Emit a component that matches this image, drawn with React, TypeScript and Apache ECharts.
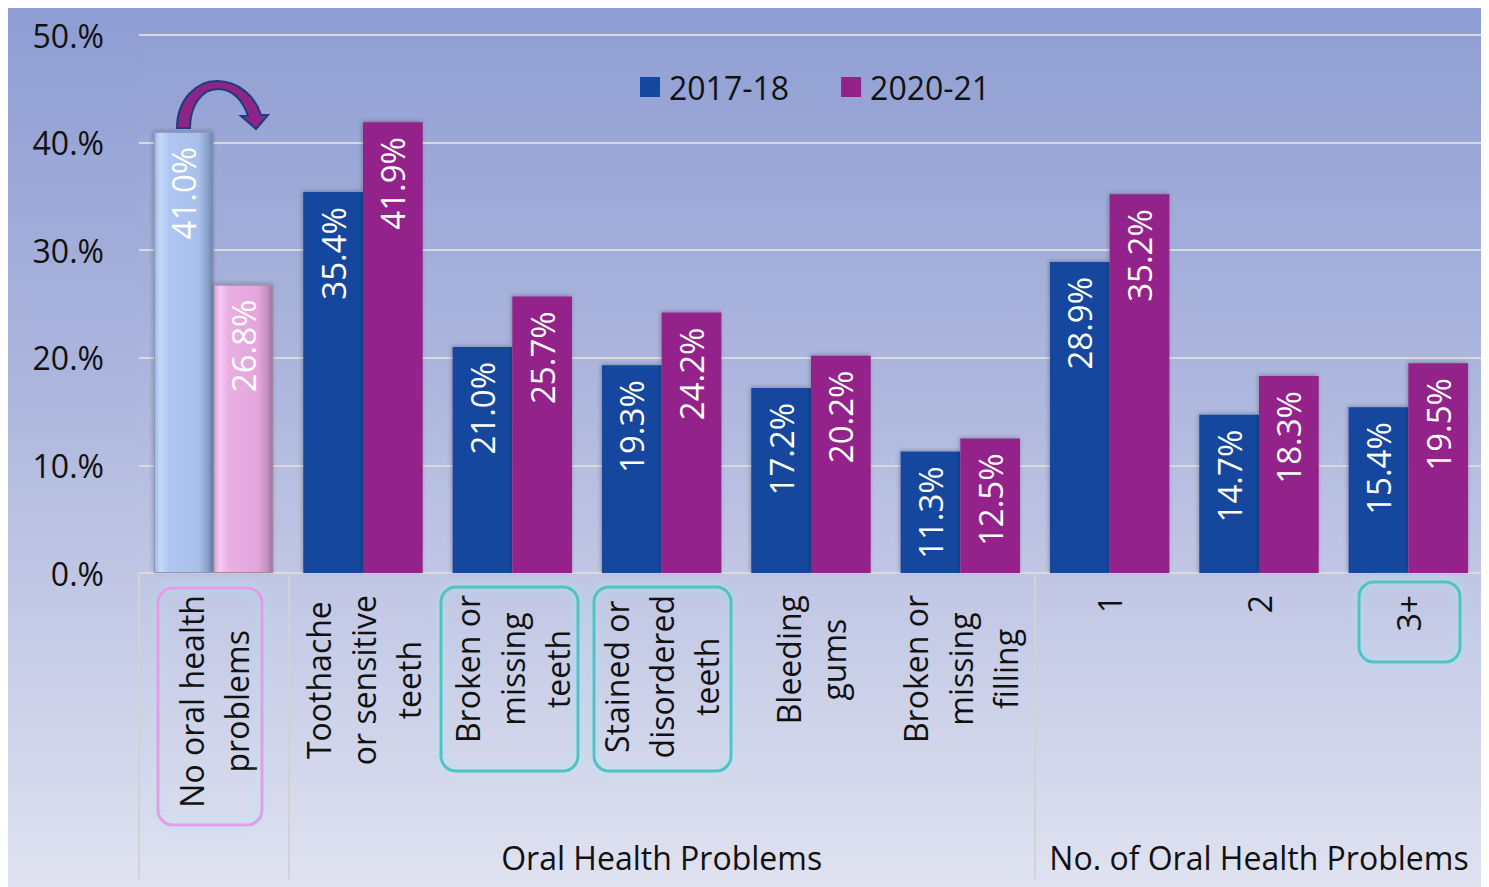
import React, { useEffect, useRef } from "react";
import * as echarts from "echarts";

const categories = [
  "No oral health\nproblems",
  "Toothache\nor sensitive\nteeth",
  "Broken or\nmissing\nteeth",
  "Stained or\ndisordered\nteeth",
  "Bleeding\ngums",
  "Broken or\nmissing\nfilling",
  "1",
  "2",
  "3+",
];
const groupLabels = ["", "", "", "Oral Health Problems", "", "", "", "No. of Oral Health Problems", ""];
const groupStarts = [0, 1, 6];
const seriesNames = ["2017-18", "2020-21"];
const values2017 = [41.0, 35.4, 21.0, 19.3, 17.2, 11.3, 28.9, 14.7, 15.4];
const values2020 = [26.8, 41.9, 25.7, 24.2, 20.2, 12.5, 35.2, 18.3, 19.5];
const yMin = 0;
const yMax = 50;
const yStep = 10;

const FONT = "'Open Sans', 'Noto Sans', sans-serif";
const BLUE = "#15479E";
const MAGENTA = "#93238A";
const FS = 32;

const arrowPath =
  "M177 128 C177 100 196 81 217 81 C238 81 255 96 261 115 L268 115 L256 129 L241 116 L248 116 C243 100 232 89 218 89 C202 89 190 105 190 128 Z";

let registered = false;
function registerShapes() {
  if (registered) return;
  registered = true;
  echarts.graphic.registerShape("curvedArrow", echarts.graphic.extendPath(arrowPath, {}) as any);
}

function grad(stops: [number, string][]) {
  return new echarts.graphic.LinearGradient(
    0,
    0,
    1,
    0,
    stops.map(([offset, color]) => ({ offset, color }))
  );
}

export default function App() {
  const ref = useRef<HTMLDivElement>(null);

  useEffect(() => {
    document.documentElement.style.overflow = "hidden";
    registerShapes();
    const chart = echarts.init(ref.current!, null, { renderer: "svg" });

    const lightBlue = grad([
      [0, "#9FB5DE"],
      [0.1, "#C6DAFB"],
      [0.25, "#AEC6F1"],
      [0.75, "#A8C0EB"],
      [0.9, "#8AA1CB"],
      [1, "#6F84AC"],
    ]);
    const lightPink = grad([
      [0, "#D9A5D6"],
      [0.1, "#FAC8F4"],
      [0.25, "#E9AEE2"],
      [0.75, "#E3A6DC"],
      [0.9, "#C48FBF"],
      [1, "#9F7399"],
    ]);

    const labelCommon = {
      show: true,
      position: "insideTop",
      rotate: 90,
      align: "right",
      verticalAlign: "middle",
      distance: 15,
      color: "#ffffff",
      fontSize: 33,
      fontFamily: FONT,
      formatter: (p: any) => `${Number(p.value).toFixed(1)}%`,
    };

    const barShadow = {
      shadowBlur: 4,
      shadowColor: "rgba(0,0,0,0.25)",
      shadowOffsetX: -1,
      shadowOffsetY: -1,
    };

    const data2017 = values2017.map((v, i) =>
      i === 0
        ? { value: v, itemStyle: { color: lightBlue, borderColor: "#8896B8", borderWidth: 1, ...barShadow } }
        : v
    );
    const data2020 = values2020.map((v, i) =>
      i === 0
        ? { value: v, itemStyle: { color: lightPink, borderColor: "#A48AA8", borderWidth: 1, ...barShadow } }
        : v
    );

    const boxes = [
      { x: 158, y: 588, w: 104, h: 237, stroke: "#E59BE5" },
      { x: 441, y: 587, w: 137, h: 184, stroke: "#4EC3C6" },
      { x: 594, y: 587, w: 137, h: 184, stroke: "#4EC3C6" },
      { x: 1359, y: 582, w: 101, h: 80, stroke: "#4EC3C6" },
    ];

    chart.setOption({
      animation: false,
      backgroundColor: new echarts.graphic.LinearGradient(0, 0, 0, 1, [
        { offset: 0, color: "#8E9DD3" },
        { offset: 0.45, color: "#AEB7DE" },
        { offset: 1, color: "#E0E2F0" },
      ]),
      textStyle: { fontFamily: FONT },
      grid: {
        left: 131,
        right: 6,
        top: 27,
        bottom: 314,
        containLabel: false,
        show: true,
        borderWidth: 0,
        backgroundColor: "rgba(255,255,255,0.01)",
        shadowColor: "rgba(40,40,80,0.35)",
        shadowBlur: 4,
        shadowOffsetX: 2,
        shadowOffsetY: 0,
      },
      legend: {
        data: seriesNames,
        left: 627,
        top: 58,
        icon: "rect",
        itemWidth: 20,
        itemHeight: 20,
        itemGap: 52,
        textStyle: { fontSize: FS, color: "#111", fontFamily: FONT, padding: [0, 0, 0, 4] },
      },
      xAxis: [
        {
          type: "category",
          data: categories,
          position: "bottom",
          axisLine: {
            show: true,
            lineStyle: {
              color: "#D4D4D8",
              width: 2,
              shadowColor: "rgba(0,0,0,0.55)",
              shadowBlur: 6,
              shadowOffsetY: 4,
            },
          },
          axisTick: { show: false },
          axisLabel: {
            interval: 0,
            rotate: 90,
            margin: 22,
            formatter: (v: string) =>
              v
                .split("\n")
                .map((l) => `{c|${l}}`)
                .join("\n"),
            rich: {
              c: { align: "center", fontSize: FS, lineHeight: 45, color: "#111", fontFamily: FONT },
            },
          },
        },
        {
          type: "category",
          data: categories,
          position: "bottom",
          axisLine: { show: false },
          axisTick: {
            show: true,
            interval: (i: number) => groupStarts.indexOf(i) >= 0,
            length: 306,
            lineStyle: { color: "#D2D2D6", width: 2 },
          },
          axisLabel: {
            interval: 0,
            margin: 268,
            fontSize: FS,
            color: "#111",
            fontFamily: FONT,
            formatter: (_v: string, i: number) => groupLabels[i],
          },
        },
      ],
      yAxis: {
        type: "value",
        min: yMin,
        max: yMax,
        interval: yStep,
        axisLine: { show: false },
        axisTick: { show: false },
        axisLabel: {
          margin: 35,
          fontSize: FS,
          color: "#111",
          fontFamily: FONT,
          formatter: (v: number) => `${v}.%`,
        },
        splitLine: { lineStyle: { color: "#DADADC", width: 2 } },
      },
      series: [
        {
          name: seriesNames[0],
          type: "bar",
          data: data2017,
          barGap: "0%",
          barCategoryGap: "20%",
          itemStyle: { color: BLUE, ...barShadow },
          label: labelCommon,
        },
        {
          name: seriesNames[1],
          type: "bar",
          data: data2020,
          barGap: "0%",
          barCategoryGap: "20%",
          itemStyle: { color: MAGENTA, ...barShadow },
          label: labelCommon,
        },
      ],
      graphic: [
        ...boxes.map((b) => ({
          type: "rect",
          z: 100,
          shape: { x: b.x - 8, y: b.y - 8, width: b.w, height: b.h, r: 15 },
          style: {
            fill: "none",
            stroke: b.stroke,
            lineWidth: 3,
            shadowBlur: 10,
            shadowColor: "#A8E8F0",
          },
        })),
        {
          type: "curvedArrow",
          z: 100,
          x: -8,
          y: -8,
          style: { fill: "#8C2585", stroke: "#1D3C82", lineWidth: 2 },
        },
      ],
    } as any);

    return () => chart.dispose();
  }, []);

  return <div ref={ref} style={{ width: 1481, height: 879 }} />;
}
